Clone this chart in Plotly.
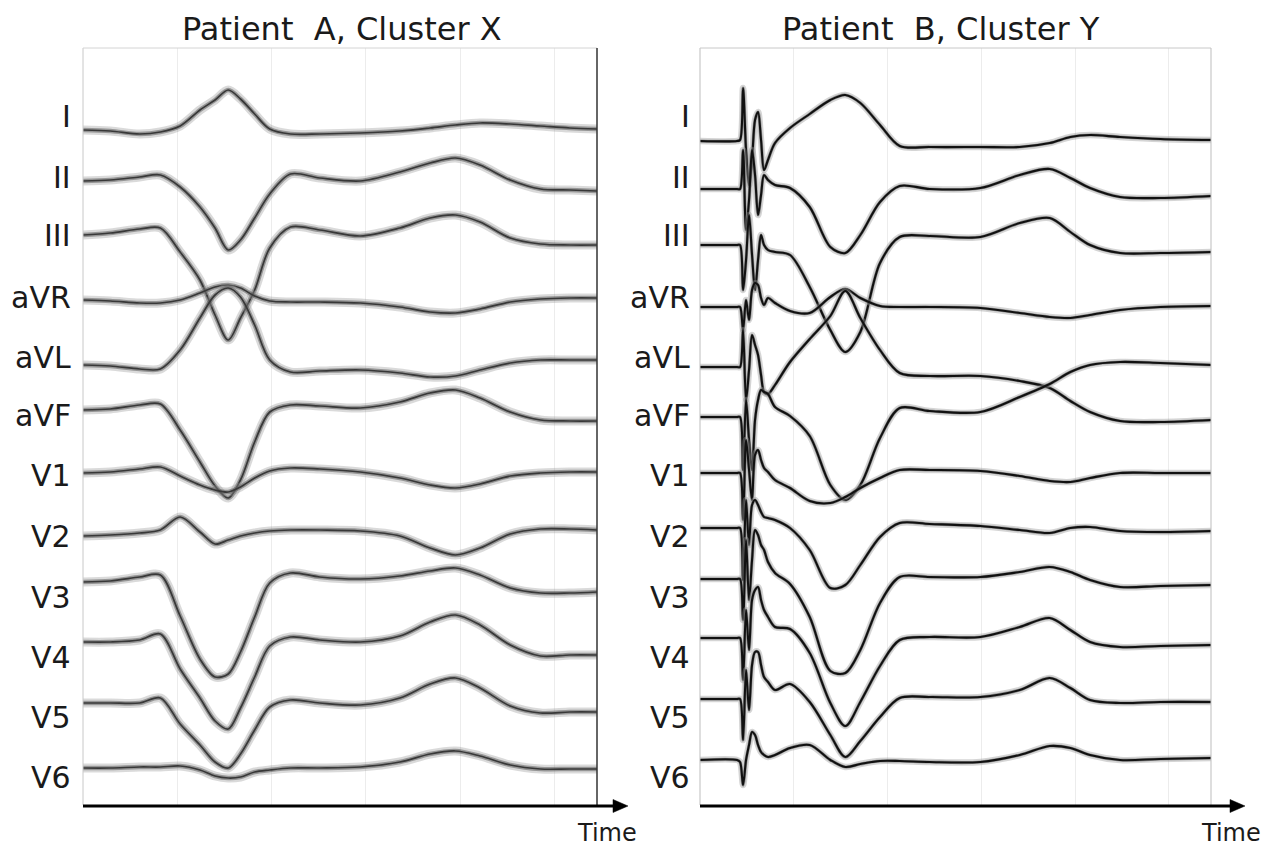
import plotly.graph_objects as go

# ---------------- data ----------------
LEADS = ["I", "II", "III", "aVR", "aVL", "aVF", "V1", "V2", "V3", "V4", "V5", "V6"]

# time samples (arbitrary time units) for each panel
TIME_A = [0, 29, 60, 82, 103, 124, 140, 154, 167, 182, 198, 220, 251, 294, 336,
          368, 395, 421, 453, 485, 516, 545]
TIME_B = [0, 39.5, 42.7, 45.9, 49.1, 52.3, 55.5, 58.7, 61.9, 65.1, 68.3, 72.5, 80,
          96, 117, 139, 155, 171, 192, 213, 245, 299, 341, 373, 395, 416, 448, 491, 545]

# vertical separation of each lead's baseline (display units, downwards)
OFFSET_A = [130, 180, 235, 300, 365, 410, 473, 536, 582, 642, 703, 768]
OFFSET_B = [141, 189, 245, 307, 367, 417, 473, 528, 579, 638, 699, 760]

# Patient A, Cluster X - amplitudes per lead
A_I   = [0, -1, -4, -2, 4, 20, 30, 40, 31, 16, 1, -4, -4, -3, -1, 2, 5, 7, 6, 4, 2, 1]
A_II  = [-1, 0, 3, 5, -7, -27, -48, -70, -60, -38, -14, 6, 2, -1, 8, 17, 22, 15, 0, -9, -10, -11]
A_III = [0, 2, 6, 7, -17, -45, -80, -105, -83, -55, -13, 8, 5, -1, 7, 17, 20, 13, -3, -9, -10, -10]
A_AVR = [0, -1, -3, -3, 0, 7, 13, 15, 12, 4, -1, -2, -2, -3, -7, -12, -13, -9, -2, 1, 2, 2]
A_AVL = [0, -1, -4, -4, 15, 47, 70, 77, 68, 40, 5, -7, -6, -5, -8, -12, -11, -5, 2, 5, 5, 5]
A_AVF = [0, 1, 5, 6, -20, -52, -76, -88, -70, -32, -2, 5, 4, 2, 8, 17, 20, 12, -2, -10, -11, -11]
A_V1  = [0, 1, 4, 6, -3, -12, -17, -19, -14, -5, 2, 5, 4, 1, -5, -12, -15, -11, -3, 0, 1, 1]
A_V2  = [0, 1, 3, 6, 19, 4, -8, -4, 0, 3, 5, 6, 6, 5, 0, -12, -19, -12, 2, 7, 7, 6]
A_V3  = [0, 1, 5, 7, -34, -77, -95, -92, -70, -35, -1, 9, 5, 3, 6, 11, 14, 7, -6, -11, -11, -10]
A_V4  = [0, 0, 2, 8, -27, -56, -79, -87, -66, -35, -4, 5, 2, 0, 6, 20, 27, 17, -3, -14, -13, -13]
A_V5  = [0, 0, 0, 5, -21, -42, -59, -65, -51, -27, -4, 3, 0, -2, 5, 19, 25, 15, -3, -10, -9, -9]
A_V6  = [0, 0, 1, 1, 2, -2, -8, -10, -9, -4, -2, 0, 0, 1, 6, 14, 17, 12, 3, -1, -1, -1]

# Patient B, Cluster Y - amplitudes per lead
B_I   = [0, 0, 1, 53, -9, -44, -19, 21, 29, 1, -29, -19, -2, 13, 27, 41, 46, 38, 16, -5,
         -6, -6, -6, -2, 4, 6, 4, 2, 1]
B_II  = [0, 0, 0, 39, -41, -11, 39, 14, -26, -6, 14, 9, 4, 1, -18, -58, -64, -46, -13, 3,
         0, 1, 14, 20, 11, 1, -8, -9, -7]
B_III = [0, 0, 0, -45, -15, 30, -10, -45, -15, 10, 0, -5, -7, -10, -42, -85, -107, -87, -18, 8,
         9, 8, 22, 27, 13, 0, -8, -8, -7]
B_AVR = [0, 0, 0, -23, 7, -13, 17, 24, 22, 9, 2, 9, 4, -4, -6, 10, 18, 9, 1, 0,
         0, -1, -6, -10, -11, -8, -3, 0, 1]
B_AVL = [0, 0, 0, 37, -33, -3, 32, 22, 12, -8, -25, -27, -18, 5, 28, 51, 76, 49, 17, -6,
         -9, -9, -14, -21, -34, -45, -54, -55, -53]
B_AVF = [0, 0, 0, -53, 17, -23, -53, -3, 17, 27, 25, 23, 10, 1, -19, -68, -83, -68, -21, 9,
         6, 5, 20, 33, 45, 52, 55, 54, 52]
B_V1  = [0, 0, 0, -47, 33, 3, -27, 18, 23, 13, 5, 1, -7, -15, -28, -30, -24, -15, -5, 3,
         3, 2, -3, -8, -9, -5, 0, 0, 0]
B_V2  = [0, 0, 0, -52, 28, -17, 23, 28, 23, 16, 11, 10, 8, 0, -22, -60, -57, -37, -9, 5,
         4, 2, -2, -5, 0, 1, -3, -4, -3]
B_V3  = [0, 0, 0, -41, 39, -21, 19, 49, 44, 34, 29, 17, 6, -5, -38, -92, -94, -71, -24, 2,
         2, 2, 7, 12, 7, -1, -8, -7, -6]
B_V4  = [0, 0, 0, -42, 28, -12, 38, 48, 51, 38, 28, 21, 11, 9, -15, -65, -88, -64, -28, -2,
         1, 1, 11, 20, 8, -4, -9, -8, -7]
B_V5  = [0, 0, 0, -41, 29, -11, 34, 47, 47, 34, 22, 17, 9, 15, -3, -36, -58, -42, -18, 1,
         2, 2, 9, 21, 11, -1, -4, -3, -3]
B_V6  = [0, 0, -2, -25, 0, 15, 28, 25, 15, 8, 5, 3, 5, 12, 15, 0, -7, -4, -1, -1,
         -2, -2, 5, 14, 12, 5, 0, 1, 2]

AMP_A = [A_I, A_II, A_III, A_AVR, A_AVL, A_AVF, A_V1, A_V2, A_V3, A_V4, A_V5, A_V6]
AMP_B = [B_I, B_II, B_III, B_AVR, B_AVL, B_AVF, B_V1, B_V2, B_V3, B_V4, B_V5, B_V6]

TITLE_A = "Patient\u00a0 A, Cluster X"
TITLE_B = "Patient\u00a0 B, Cluster Y"
AXIS_LABEL = "Time"

# ---------------- layout constants ----------------
PAGE_MARGIN = 8                      # default body margin of the html page
W, H = 1278 - PAGE_MARGIN, 854 - PAGE_MARGIN
FONT = "DejaVu Sans"
TOP_PX, BOT_PX = 48, 805
A_LEFT, A_RIGHT = 83, 597
B_LEFT, B_RIGHT = 700, 1211
LABEL_Y = [117, 178, 236, 298, 358, 416, 476, 536, 597, 657, 717, 777]


def px_x(p):
    return (p - PAGE_MARGIN) / W


def px_y(p):
    return 1 - (p - PAGE_MARGIN) / H


fig = go.Figure()


def add_panel(times, amps, offsets, xa, ya, core_color, band_w, core_w, band_alpha):
    for name, amp, off in zip(LEADS, amps, offsets):
        ys = [a - off for a in amp]
        fig.add_trace(go.Scatter(x=times, y=ys, xaxis=xa, yaxis=ya, mode="lines",
                                 line=dict(color="rgba(150,150,150,%.2f)" % band_alpha,
                                           width=band_w, shape="spline", smoothing=0.9),
                                 hoverinfo="skip", showlegend=False))
        fig.add_trace(go.Scatter(x=times, y=ys, xaxis=xa, yaxis=ya, mode="lines",
                                 line=dict(color="rgba(95,95,95,0.55)", width=band_w * 0.5,
                                           shape="spline", smoothing=0.9),
                                 hoverinfo="skip", showlegend=False))
        fig.add_trace(go.Scatter(x=times, y=ys, xaxis=xa, yaxis=ya, mode="lines",
                                 line=dict(color=core_color, width=core_w,
                                           shape="spline", smoothing=0.9),
                                 name=name, showlegend=False))


add_panel(TIME_A, AMP_A, OFFSET_A, "x", "y", "#383838", 9, 1.7, 0.35)
add_panel(TIME_B, AMP_B, OFFSET_B, "x2", "y2", "#111111", 6.5, 2.1, 0.40)

xcommon = dict(range=[0, 545], showgrid=True, gridcolor="#ececec", gridwidth=1,
               tick0=0, dtick=100, showticklabels=False, zeroline=False,
               showline=False, ticks="", fixedrange=True)
ycommon = dict(range=[-BOT_PX, -TOP_PX], showgrid=False, showticklabels=False,
               zeroline=False, showline=False, ticks="", fixedrange=True,
               domain=[px_y(BOT_PX), px_y(TOP_PX)])

fig.update_layout(
    width=W, height=H,
    margin=dict(l=0, r=0, t=0, b=0),
    paper_bgcolor="white", plot_bgcolor="white",
    font=dict(family=FONT, color="#1a1a1a"),
    xaxis=dict(domain=[px_x(A_LEFT), px_x(A_RIGHT)], anchor="y", **xcommon),
    yaxis=dict(anchor="x", **ycommon),
    xaxis2=dict(domain=[px_x(B_LEFT), px_x(B_RIGHT)], anchor="y2", **xcommon),
    yaxis2=dict(anchor="x2", **ycommon),
)

shapes = []
# panel frames
for xr, yr, cols in (("x domain", "y domain", ("#c8c8c8", "#d4d4d4", "#333333")),
                     ("x2 domain", "y2 domain", ("#bdbdbd", "#c8c8c8", "#bdbdbd"))):
    shapes.append(dict(type="line", xref=xr, yref=yr, x0=0, x1=0, y0=0, y1=1,
                       line=dict(color=cols[0], width=1)))
    shapes.append(dict(type="line", xref=xr, yref=yr, x0=0, x1=1, y0=1, y1=1,
                       line=dict(color=cols[1], width=1)))
    shapes.append(dict(type="line", xref=xr, yref=yr, x0=1, x1=1, y0=0, y1=1,
                       line=dict(color=cols[2], width=1.5 if cols[2] == "#333333" else 1)))

# time axis arrows
ARROW_Y = 806
for start, tip in ((A_LEFT, 628), (B_LEFT, 1245)):
    shapes.append(dict(type="line", xref="paper", yref="paper",
                       x0=px_x(start), x1=px_x(tip - 10), y0=px_y(ARROW_Y), y1=px_y(ARROW_Y),
                       line=dict(color="black", width=3)))
    path = "M {a},{b} L {c},{d} L {e},{f} Z".format(
        a=px_x(tip), b=px_y(ARROW_Y),
        c=px_x(tip - 15), d=px_y(ARROW_Y - 6.5),
        e=px_x(tip - 15), f=px_y(ARROW_Y + 6.5))
    shapes.append(dict(type="path", xref="paper", yref="paper", path=path,
                       fillcolor="black", line=dict(color="black", width=0.5)))
fig.update_layout(shapes=shapes)

ann = []
for txt, cx in ((TITLE_A, 342), (TITLE_B, 941)):
    ann.append(dict(text=txt, x=px_x(cx), y=px_y(29), xref="paper", yref="paper",
                    showarrow=False, font=dict(size=32, family=FONT, color="#1a1a1a"),
                    xanchor="center", yanchor="middle", borderpad=0))
for name, ly in zip(LEADS, LABEL_Y):
    ann.append(dict(text=name, x=px_x(73), y=-ly, xref="paper", yref="y",
                    showarrow=False, xanchor="right", yanchor="middle",
                    font=dict(size=30, family=FONT, color="#1a1a1a")))
    ann.append(dict(text=name, x=px_x(692), y=-ly, xref="paper", yref="y2",
                    showarrow=False, xanchor="right", yanchor="middle",
                    font=dict(size=30, family=FONT, color="#1a1a1a")))
ann.append(dict(text=AXIS_LABEL, x=px_x(607), y=px_y(833), xref="paper", yref="paper",
                showarrow=False, xanchor="center", yanchor="middle",
                font=dict(size=24, family=FONT, color="#1a1a1a")))
ann.append(dict(text=AXIS_LABEL, x=px_x(1231), y=px_y(833), xref="paper", yref="paper",
                showarrow=False, xanchor="center", yanchor="middle",
                font=dict(size=24, family=FONT, color="#1a1a1a")))
fig.update_layout(annotations=ann)

fig.write_html("out.html")
